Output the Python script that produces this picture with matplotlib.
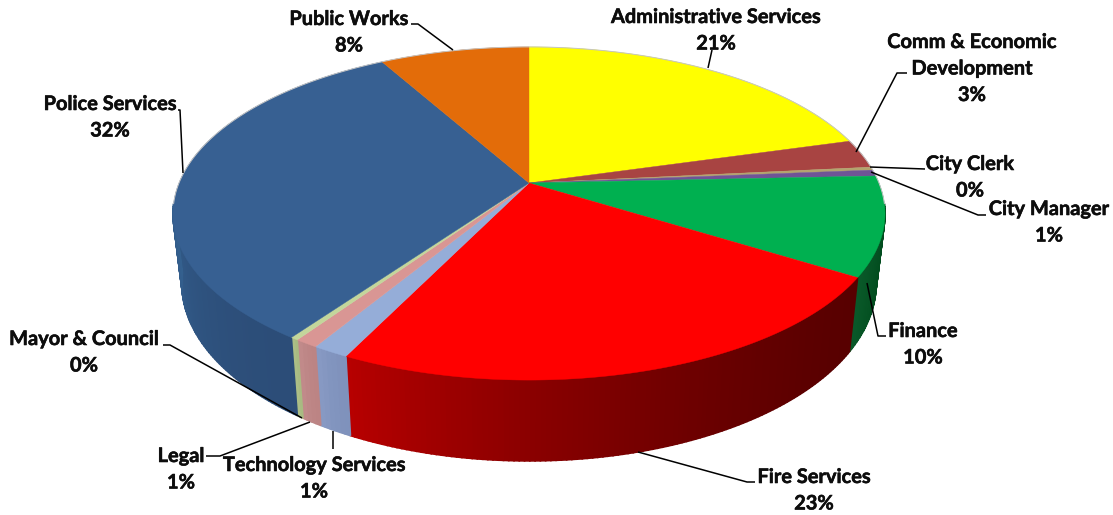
#plot.py
#Draws the departmental budget split as a tilted 3D style pie with a side wall.

import numpy as np
import matplotlib
matplotlib.use('Agg')
import matplotlib.pyplot as plt
import matplotlib.patheffects as pe
from matplotlib.colors import to_rgb

departments = ['Administrative Services', 'Comm & Economic\nDevelopment', 'City Clerk',
               'City Manager', 'Finance', 'Fire Services', 'Technology Services',
               'Legal', 'Mayor & Council', 'Police Services', 'Public Works']
shares = [20.6, 2.8, 0.3, 0.6, 9.6, 23.3, 1.4, 0.9, 0.3, 32.1, 8.1]

topColors = ['#FFFF00', '#A84442', '#B3A46E', '#6F5496', '#00B050', '#FF0000',
             '#95ADD8', '#D99694', '#C3D69B', '#376092', '#E36C09']
wallLeft = ['#B3B300', '#7A3130', '#807550', '#4F3C6B', '#0A5A2A', '#B80000',
            '#8A9CC6', '#C48E8E', '#B4C68E', '#34608F', '#A04C06']
wallRight = ['#B3B300', '#7A3130', '#807550', '#4F3C6B', '#004A1C', '#580000',
             '#7F92BC', '#BC8484', '#A8BB82', '#2C4D78', '#A04C06']

# label centre (x, y of first line) in figure pixels
labelPos = [(716, 16), (972, 41), (970, 163), (1049, 208), (923, 330), (814, 476),
            (314, 464), (181, 455), (84, 338), (110, 103), (349, 18)]

# leader lines in figure pixels
leaders = [[(712, 50), (708, 68)],
           [(907, 73), (897, 73), (856, 152)],
           [(925, 169), (870, 167)],
           [(986, 215), (978, 215), (871, 172)],
           [(886, 336), (878, 336), (867, 283)],
           [(755, 482), (747, 482), (638, 452)],
           [(333, 449), (333, 431)],
           [(206, 456), (220, 456), (310, 422)],
           [(163, 345), (170, 345), (302, 418)],
           [(178, 110), (180, 110), (183, 173)],
           [(411, 24), (418, 24), (453, 50)]]

W, H = 1113, 515
CX, CY = 529, 183
RX, RY, TILT = 350, 161, 0.183


def topRim(frac):
    # frac runs clockwise from twelve o'clock, 1.0 is a full turn
    a = 2 * np.pi * np.asarray(frac)
    u, v = np.sin(a), np.cos(a)
    den = 1 + TILT * v
    return CX + RX * u / den, CY - RY * v / den


def bottomRim(frac):
    # the lower edge sits lower and a little narrower than the top one
    x, y = topRim(frac)
    return CX + 0.975 * (x - CX), CY + 68 + 1.065 * (y - CY)


def drawWall(ax, start, end, left, right):
    # strips along the front rim, shaded from the right end to the left end
    lo, hi = max(start, 0.27), min(end, 0.73)
    if hi <= lo:
        return
    steps = max(2, int((hi - lo) * 500))
    edges = np.linspace(lo, hi, steps + 1)
    c0, c1 = np.array(to_rgb(left)), np.array(to_rgb(right))
    for i in range(steps):
        f = edges[i:i + 2]
        xt, yt = topRim(f)
        xb, yb = bottomRim(f)
        t = ((edges[i] - lo) / (hi - lo)) ** 1.7
        c = c1 + (c0 - c1) * t
        ax.fill([xt[0], xt[1], xb[1], xb[0]], [yt[0], yt[1], yb[1], yb[0]],
                color=c, lw=1.2, zorder=2)


def drawSlice(ax, start, end, color):
    f = np.linspace(start, end, max(3, int((end - start) * 720)))
    x, y = topRim(f)
    ax.fill(np.r_[CX, x], np.r_[CY, y], color=color, lw=0.3, zorder=3)


def main():
    plt.rcParams['font.family'] = ['Lato', 'DejaVu Sans']
    fig = plt.figure(figsize=(W / 100, H / 100), dpi=100)
    ax = fig.add_axes([0, 0, 1, 1])
    ax.set_xlim(0, W)
    ax.set_ylim(H, 0)
    ax.axis('off')

    edges = np.r_[0, np.cumsum(shares)] / np.sum(shares)

    for i in range(len(shares)):
        drawWall(ax, edges[i], edges[i + 1], wallLeft[i], wallRight[i])
    for i in range(len(shares)):
        drawSlice(ax, edges[i], edges[i + 1], topColors[i])

    # thin soft edge around the back of the disc only
    x, y = topRim(np.linspace(-0.27, 0.27, 300))
    ax.plot(x, y, color='#c4c4c4', lw=0.7, zorder=4)
    x, y = bottomRim(np.linspace(0.27, 0.73, 300))
    ax.plot(x, y, color='#d0d0d0', lw=0.7, zorder=1.5)

    for pts in leaders:
        ax.plot(*zip(*pts), color='black', lw=1.1, zorder=5, solid_capstyle='butt')

    lineStep = 26.5
    for name, share, (px, py) in zip(departments, shares, labelPos):
        lines = name.split('\n') + [f'{round(share)}%']
        for k, line in enumerate(lines):
            t = ax.text(px, py + 1 + k * lineStep, line, ha='center', va='center',
                        fontsize=14.4, fontweight='bold', color='#0d0d0d', zorder=6)
            t.set_path_effects([pe.withStroke(linewidth=0.4, foreground='#0d0d0d')])

    fig.savefig('out.png', dpi=100)


main()
